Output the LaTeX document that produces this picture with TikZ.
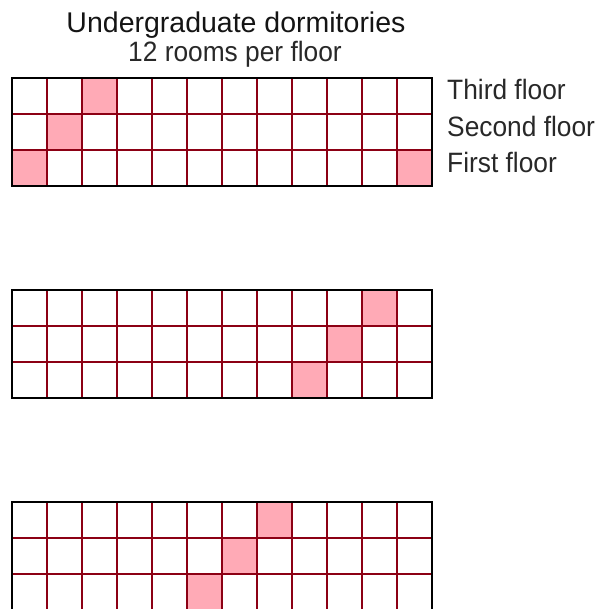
\documentclass[tikz,border=0pt]{standalone}
\usepackage{fontspec}
\setmainfont{Liberation Sans}
\newfontfamily\narrowfont[FakeStretch=0.94]{Liberation Sans}
\definecolor{gridred}{RGB}{140,0,20}
\definecolor{roompink}{RGB}{255,170,182}
\definecolor{inkblack}{RGB}{20,20,20}
\definecolor{inklight}{RGB}{40,40,40}
\tikzset{
  room/.style={fill=roompink, draw=none},
  innerline/.style={draw=gridred, line width=2pt},
  outerline/.style={draw=black, line width=2.2pt},
  titletext/.style={anchor=base, inner sep=0pt, text=inkblack, font=\fontsize{28.5}{34}\selectfont},
  subtext/.style={anchor=base, inner sep=0pt, text=inklight, font=\narrowfont\fontsize{28}{34}\selectfont},
  floortext/.style={anchor=base west, inner sep=0pt, text=inklight, font=\narrowfont\fontsize{28}{34}\selectfont}
}
\begin{document}
\begin{tikzpicture}[x=1pt,y=-1pt]
\useasboundingbox (0,0) rectangle (597,609);
% pink rooms: grid top y / column / row
\foreach \gy/\c/\r in {78/3/1, 78/2/2, 78/1/3, 78/12/3,
                       290/11/1, 290/10/2, 290/9/3,
                       502/8/1, 502/7/2, 502/6/3}{
  \fill[room] ({12+35*(\c-1)},{\gy+36*(\r-1)}) rectangle ({12+35*\c},{\gy+36*\r});
}
% grids
\foreach \gy in {78,290,502}{
  \foreach \k in {1,...,11}{
    \draw[innerline] ({12+35*\k},\gy) -- ({12+35*\k},{\gy+108});
  }
  \foreach \k in {1,2}{
    \draw[innerline] (12,{\gy+36*\k}) -- (432,{\gy+36*\k});
  }
  \draw[outerline] (12,\gy) rectangle (432,{\gy+108});
}
\node[titletext] (title) at (236,33) {Undergraduate dormitories};
\node[subtext] (subtitle) at (235,62) {12 rooms per floor};
\node[floortext] (third) at (447,100) {Third floor};
\node[floortext] (second) at (447,136.5) {Second floor};
\node[floortext] (first) at (447,173) {First floor};
\end{tikzpicture}
\end{document}
